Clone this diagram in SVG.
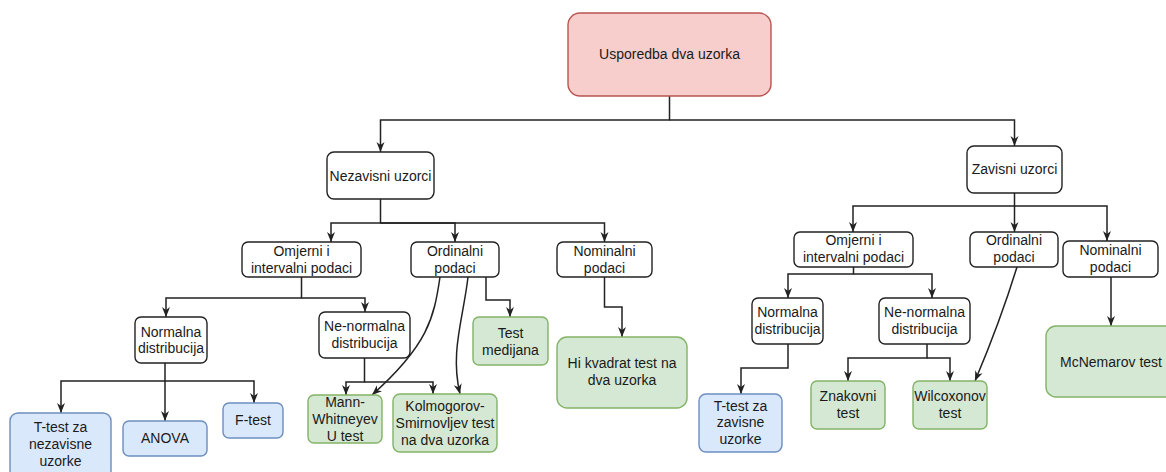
<svg xmlns="http://www.w3.org/2000/svg" width="1166" height="472" viewBox="0 0 1166 472">
<style>
.n rect{fill:#ffffff;stroke:#222;stroke-width:1.4}
.r rect{fill:#f8cecc;stroke:#b85450;stroke-width:1.4}
.b rect{fill:#dae8fc;stroke:#6c8ebf;stroke-width:1.4}
.g rect{fill:#d5e8d4;stroke:#82b366;stroke-width:1.4}
text{font-family:"Liberation Sans",Arial,sans-serif;font-size:14px;fill:#1a1a1a;text-anchor:middle}
#edges path{fill:none;stroke:#222;stroke-width:1.5;marker-end:url(#arr)}
</style>
<defs>
<marker id="arr" viewBox="0 0 10 10" refX="10" refY="5" markerWidth="10" markerHeight="10" orient="auto" markerUnits="userSpaceOnUse">
<path d="M0,1 L10,5 L0,9 L3,5 z" fill="#222"/>
</marker>
</defs>
<rect width="1166" height="472" fill="#ffffff"/>
<g id="edges">
<path d="M669.5,96 V120 H380.5 V152"/>
<path d="M669.5,120 H1014.5 V146"/>
<path d="M380.5,199 V223 H331 V242"/>
<path d="M380.5,223 H455 V242"/>
<path d="M380.5,223 H604.5 V242"/>
<path d="M301.5,277 V298 H166 V317"/>
<path d="M301.5,298 H365 V312"/>
<path d="M165,363 V381 H61 V413"/>
<path d="M165,381 V421"/>
<path d="M165,381 H254 V403"/>
<path d="M364.5,358 V382 H346 V395"/>
<path d="M364.5,382 H433 V394"/>
<path d="M440,277 C434,318 428,345 372,395"/>
<path d="M468,277 C463,320 450,352 460,394"/>
<path d="M486,277 V300 H510 V317"/>
<path d="M604.5,277 V307 H622 V337"/>
<path d="M1014.5,193 V206 H853 V232"/>
<path d="M1014.5,206 V232"/>
<path d="M1014.5,206 H1107 V241"/>
<path d="M853.5,267 V274 H788 V298"/>
<path d="M853.5,274 H932 V298"/>
<path d="M788,344 V368 H741 V394"/>
<path d="M927,344 V358 H848 V381"/>
<path d="M927,358 H950 V381"/>
<path d="M1017,267 Q1000,322 975,381"/>
<path d="M1111,277 V326"/>
</g>
<g id="root" class="r"><rect x="568" y="13" width="203" height="83" rx="12"/><text x="669.5" y="59">Usporedba dva uzorka</text></g>
<g id="nezavisni" class="n"><rect x="327" y="152" width="107" height="47" rx="7"/><text x="380.5" y="181">Nezavisni uzorci</text></g>
<g id="zavisni" class="n"><rect x="967" y="146" width="95" height="47" rx="7"/><text x="1014.5" y="174">Zavisni uzorci</text></g>
<g id="omjerni-l" class="n"><rect x="242" y="242" width="119" height="35" rx="6"/><text x="301.5" y="256">Omjerni i</text><text x="301.5" y="273">intervalni podaci</text></g>
<g id="ordinalni-l" class="n"><rect x="411" y="242" width="88" height="35" rx="6"/><text x="455" y="256">Ordinalni</text><text x="455" y="273">podaci</text></g>
<g id="nominalni-l" class="n"><rect x="557" y="242" width="95" height="35" rx="6"/><text x="604.5" y="256">Nominalni</text><text x="604.5" y="273">podaci</text></g>
<g id="normalna-l" class="n"><rect x="135" y="317" width="72" height="46" rx="6"/><text x="171" y="337">Normalna</text><text x="171" y="353">distribucija</text></g>
<g id="nenormalna-l" class="n"><rect x="319" y="312" width="91" height="46" rx="6"/><text x="364.5" y="331">Ne-normalna</text><text x="364.5" y="348">distribucija</text></g>
<g id="ttest-l" class="b"><rect x="10" y="413" width="101" height="66" rx="8"/><text x="60.5" y="432">T-test za</text><text x="60.5" y="449">nezavisne</text><text x="60.5" y="466">uzorke</text></g>
<g id="anova" class="b"><rect x="123" y="421" width="84" height="35" rx="6"/><text x="165" y="443">ANOVA</text></g>
<g id="ftest" class="b"><rect x="223" y="403" width="60" height="35" rx="6"/><text x="253" y="425">F-test</text></g>
<g id="mann" class="g"><rect x="308" y="395" width="74" height="48" rx="6"/><text x="345" y="407">Mann-</text><text x="345" y="424">Whitneyev</text><text x="345" y="441">U test</text></g>
<g id="kolmogorov" class="g"><rect x="393" y="394" width="104" height="58" rx="7"/><text x="445" y="411">Kolmogorov-</text><text x="445" y="428">Smirnovljev test</text><text x="445" y="445">na dva uzorka</text></g>
<g id="medijana" class="g"><rect x="473" y="317" width="75" height="48" rx="6"/><text x="510.5" y="338">Test</text><text x="510.5" y="355">medijana</text></g>
<g id="hikvadrat" class="g"><rect x="557" y="337" width="130" height="71" rx="10"/><text x="622" y="368">Hi kvadrat test na</text><text x="622" y="385">dva uzorka</text></g>
<g id="omjerni-r" class="n"><rect x="794" y="232" width="119" height="35" rx="6"/><text x="853.5" y="245">Omjerni i</text><text x="853.5" y="262">intervalni podaci</text></g>
<g id="ordinalni-r" class="n"><rect x="970" y="232" width="88" height="35" rx="6"/><text x="1014" y="245">Ordinalni</text><text x="1014" y="262">podaci</text></g>
<g id="nominalni-r" class="n"><rect x="1063" y="241" width="95" height="36" rx="6"/><text x="1110.5" y="255">Nominalni</text><text x="1110.5" y="272">podaci</text></g>
<g id="normalna-r" class="n"><rect x="752" y="298" width="71" height="46" rx="6"/><text x="787.5" y="317">Normalna</text><text x="787.5" y="334">distribucija</text></g>
<g id="nenormalna-r" class="n"><rect x="879" y="298" width="91" height="46" rx="6"/><text x="924.5" y="317">Ne-normalna</text><text x="924.5" y="334">distribucija</text></g>
<g id="ttest-r" class="b"><rect x="699" y="394" width="83" height="58" rx="7"/><text x="740.5" y="411">T-test za</text><text x="740.5" y="427">zavisne</text><text x="740.5" y="444">uzorke</text></g>
<g id="znakovni" class="g"><rect x="811" y="381" width="74" height="48" rx="6"/><text x="848" y="401">Znakovni</text><text x="848" y="418">test</text></g>
<g id="wilcoxonov" class="g"><rect x="913" y="381" width="74" height="48" rx="6"/><text x="950" y="401">Wilcoxonov</text><text x="950" y="418">test</text></g>
<g id="mcnemarov" class="g"><rect x="1046" y="326" width="130" height="71" rx="10"/><text x="1111" y="367">McNemarov test</text></g>
</svg>
